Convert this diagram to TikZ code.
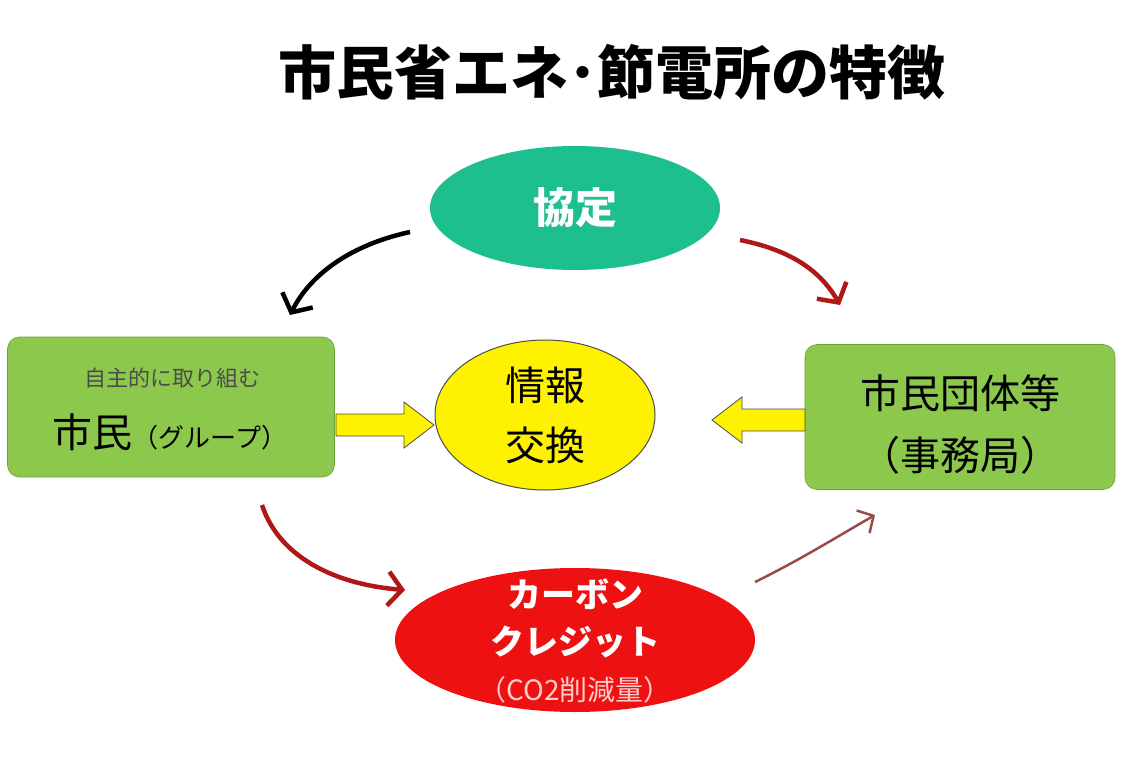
\documentclass[tikz,border=0pt]{standalone}
\usepackage{fontspec}
\setmainfont{Noto Sans CJK JP}
\usetikzlibrary{shapes.geometric,arrows.meta}
\definecolor{teal1}{HTML}{1DBF8E}
\definecolor{gbox}{HTML}{8CC84B}
\definecolor{redc}{HTML}{EE1111}
\definecolor{dred}{HTML}{B01818}
\definecolor{brn}{HTML}{9B4A4A}
\tikzset{
 box/.style={rectangle,rounded corners=12pt,fill=gbox,draw=gbox!80!black,line width=0.6pt},
 curv/.style={line width=4.5pt,-{Straight Barb[length=14pt,width=34pt,line width=4.5pt]}},
 yarr/.style={fill=yellow,draw=gray!60!black,line width=0.8pt}
}
\begin{document}
\begin{tikzpicture}[x=1pt,y=-1pt]
\useasboundingbox[fill=white] (0,0) rectangle (1122,760);
\node (title) at (612,72) {\fontsize{58}{64}\selectfont\bfseries 市民省エネ･節電所の特徴};
\node[ellipse,fill=teal1,minimum width=290pt,minimum height=124pt] (kyo) at (575,208) {};
\node[text=white] at (kyo) {\fontsize{42}{46}\selectfont\bfseries 協定};
\node[box,minimum width=327pt,minimum height=140pt] (lb) at (171,407) {};
\node[text=black!70] (lb1) at (172,378) {\fontsize{22}{24}\selectfont 自主的に取り組む};
\node (lb2) at (170,432) {\fontsize{40}{44}\selectfont 市民\fontsize{26}{30}\selectfont（グループ）};
\node[box,minimum width=310pt,minimum height=145pt] (rb) at (960,417) {};
\node (rb1) at (960,393) {\fontsize{40}{44}\selectfont 市民団体等};
\node (rb2) at (960,455) {\fontsize{40}{44}\selectfont（事務局）};
\draw[yarr] (336,414)--(404,414)--(404,402)--(434,425)--(404,448)--(404,436)--(336,436)--cycle;
\draw[yarr] (805,409)--(742,409)--(742,397)--(712,420)--(742,443)--(742,431)--(805,431)--cycle;
\node[ellipse,fill=yellow,draw=black!70,line width=1pt,minimum width=220pt,minimum height=150pt] (info) at (545,415) {};
\node[align=center,font=\fontsize{40}{60}\selectfont] at (info) {情報\\交換};
\node[ellipse,fill=redc,minimum width=360pt,minimum height=144pt] (cc) at (575,640) {};
\node[text=white] at (575,594) {\fontsize{34}{38}\selectfont\bfseries カーボン};
\node[text=white] at (575,642) {\fontsize{34}{38}\selectfont\bfseries クレジット};
\node[text=red!20] at (575,690) {\fontsize{28}{32}\selectfont （CO2削減量）};
\coordinate (a1s) at (410,232); \coordinate (a1e) at (290,315);
\coordinate (a2s) at (740,240); \coordinate (a2e) at (840,305);
\coordinate (a3s) at (262,505); \coordinate (a3e) at (405,590);
\coordinate (a4s) at (755,582); \coordinate (a4e) at (875,515);
\draw[curv,black] (a1s) .. controls (350,245) and (310,275) .. (a1e);
\draw[curv,dred] (a2s) .. controls (790,250) and (820,270) .. (a2e);
\draw[curv,dred] (a3s) .. controls (280,560) and (340,585) .. (a3e);
\draw[line width=2.5pt,brn,-{Straight Barb[length=12pt,width=26pt,line width=2.5pt]}] (a4s) .. controls (800,560) and (840,535) .. (a4e);
\end{tikzpicture}
\end{document}
